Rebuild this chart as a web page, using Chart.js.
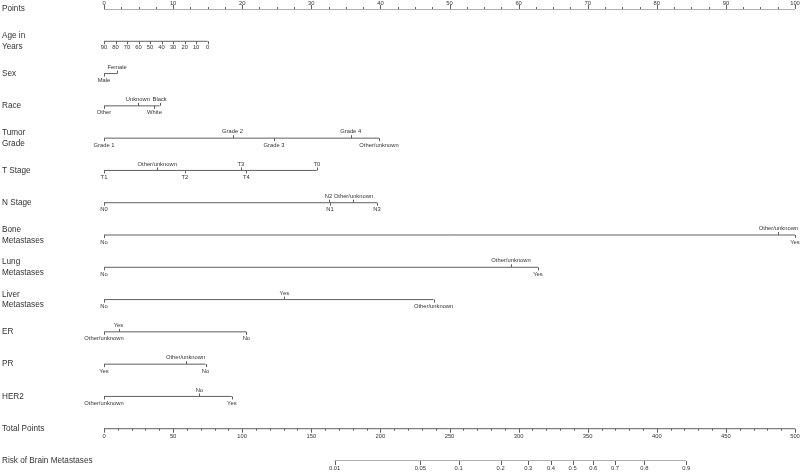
<!DOCTYPE html>
<html>
<head>
<meta charset="utf-8">
<script src="https://cdn.jsdelivr.net/npm/chart.js@4.4.1/dist/chart.umd.min.js"></script>
<style>
  body { margin: 0; background: #fff; }
  canvas { display: block; }
</style>
</head>
<body>
<canvas id="nomo" width="800" height="473"></canvas>
<script>
// row titles, top to bottom
const rowNames = [
  ['Points'], ['Age in', 'Years'], ['Sex'], ['Race'], ['Tumor', 'Grade'], ['T Stage'], ['N Stage'],
  ['Bone', 'Metastases'], ['Lung', 'Metastases'], ['Liver', 'Metastases'], ['ER'], ['PR'], ['HER2'],
  ['Total Points'], ['Risk of Brain Metastases']
];

// Points scale (0-100)
const pointLabels = [0, 10, 20, 30, 40, 50, 60, 70, 80, 90, 100];

// Age (continuous)
const ageLabels = [90, 80, 70, 60, 50, 40, 30, 20, 10, 0];
const agePoints = [0, 1.67, 3.33, 5, 6.67, 8.33, 10, 11.67, 13.33, 15];

// categorical rows: levels and their points
const sexLevels = ['Male', 'Female'];
const sexPoints = [0, 1.9];
const raceLevels = ['Other', 'Unknown', 'White', 'Black'];
const racePoints = [0, 4.9, 7.3, 8.05];
const gradeLevels = ['Grade 1', 'Grade 2', 'Grade 3', 'Grade 4', 'Other/unknown'];
const gradePoints = [0, 18.6, 24.6, 35.7, 39.8];
const tLevels = ['T1', 'Other/unknown', 'T2', 'T3', 'T4', 'T0'];
const tPoints = [0, 7.7, 11.7, 19.8, 20.6, 30.8];
const nLevels = ['N0', 'N2', 'N1', 'Other/unknown', 'N3'];
const nPoints = [0, 32.5, 32.7, 36.1, 39.5];
const boneLevels = ['No', 'Other/unknown', 'Yes'];
const bonePoints = [0, 97.6, 100];
const lungLevels = ['No', 'Other/unknown', 'Yes'];
const lungPoints = [0, 58.9, 62.8];
const liverLevels = ['No', 'Yes', 'Other/unknown'];
const liverPoints = [0, 26.1, 47.7];
const erLevels = ['Other/unknown', 'Yes', 'No'];
const erPoints = [0, 2.1, 20.6];
const prLevels = ['Yes', 'Other/unknown', 'No'];
const prPoints = [0, 11.8, 14.7];
const her2Levels = ['Other/unknown', 'No', 'Yes'];
const her2Points = [0, 13.8, 18.5];

// Total points (0-500)
const totalLabels = [0, 50, 100, 150, 200, 250, 300, 350, 400, 450, 500];

// Risk scale: labels and where they fall on the total points axis
const riskLabels = ['0.01', '0.05', '0.1', '0.2', '0.3', '0.4', '0.5', '0.6', '0.7', '0.8', '0.9'];
const riskTotals = [166.9, 228.9, 256.6, 287, 307, 323.4, 339.1, 354, 369.8, 391, 421.3];

const catRows = [
  [2, sexLevels, sexPoints], [3, raceLevels, racePoints], [4, gradeLevels, gradePoints],
  [5, tLevels, tPoints], [6, nLevels, nPoints], [7, boneLevels, bonePoints],
  [8, lungLevels, lungPoints], [9, liverLevels, liverPoints], [10, erLevels, erPoints],
  [11, prLevels, prPoints], [12, her2Levels, her2Points]
];

const LINE = '#606060';
const TXT = '#333';
const SMALL = '5.8px "Liberation Sans", Arial, sans-serif';
const BIG = '8.2px "Liberation Sans", Arial, sans-serif';

function rowLine(row, xs, axis) {
  return {
    data: [{ x: Math.min(...xs), y: row }, { x: Math.max(...xs), y: row }],
    xAxisID: axis || 'x',
    borderColor: LINE,
    borderWidth: 1,
    pointRadius: 0,
    fill: false
  };
}

const datasets = [
  rowLine(0, pointLabels),
  rowLine(1, agePoints),
  ...catRows.map(r => rowLine(r[0], r[2])),
  rowLine(13, totalLabels, 'x2'),
  rowLine(14, riskTotals, 'x2')
];

const nomogramPlugin = {
  id: 'nomogram',
  afterDatasetsDraw(chart) {
    const ctx = chart.ctx;
    const x = chart.scales.x, x2 = chart.scales.x2, y = chart.scales.y;
    ctx.save();
    ctx.strokeStyle = LINE;
    ctx.lineWidth = 1;
    ctx.fillStyle = TXT;
    ctx.textAlign = 'center';
    ctx.textBaseline = 'middle';

    function tick(px, py, len) {
      const xx = Math.round(px) + 0.5;
      ctx.beginPath();
      ctx.moveTo(xx, py);
      ctx.lineTo(xx, py + len);
      ctx.stroke();
    }

    // row titles
    ctx.font = BIG;
    ctx.textAlign = 'left';
    rowNames.forEach((lines, i) => {
      const py = y.getPixelForValue(i);
      lines.forEach((t, k) => {
        ctx.fillText(t, 2, py + (k - (lines.length - 1) / 2) * 10.5);
      });
    });
    ctx.textAlign = 'center';
    ctx.font = SMALL;

    // Points axis: labels above, minor ticks every 2.5
    let py = y.getPixelForValue(0);
    for (let v = 0; v <= 100; v += 2.5) tick(x.getPixelForValue(v), py, v % 10 === 0 ? -4 : -2);
    pointLabels.forEach(v => ctx.fillText(String(v), x.getPixelForValue(v), py - 6));

    // Age
    py = y.getPixelForValue(1);
    agePoints.forEach((p, i) => {
      tick(x.getPixelForValue(p), py, 3);
      ctx.fillText(String(ageLabels[i]), x.getPixelForValue(p), py + 6.5);
    });

    // categorical rows, labels alternate below/above
    catRows.forEach(([row, levels, pts]) => {
      const ry = y.getPixelForValue(row);
      const order = pts.map((p, i) => i).sort((a, b) => pts[a] - pts[b]);
      order.forEach((idx, k) => {
        const px = x.getPixelForValue(pts[idx]);
        const below = k % 2 === 0;
        tick(px, ry, below ? 3 : -3);
        ctx.fillText(levels[idx], px, ry + (below ? 7 : -6.5));
      });
    });

    // Total points
    py = y.getPixelForValue(13);
    for (let v = 0; v <= 500; v += 10) tick(x2.getPixelForValue(v), py, v % 50 === 0 ? 4 : 2);
    totalLabels.forEach(v => ctx.fillText(String(v), x2.getPixelForValue(v), py + 8));

    // Risk
    py = y.getPixelForValue(14);
    riskTotals.forEach((t, i) => {
      tick(x2.getPixelForValue(t), py, 4);
      ctx.fillText(riskLabels[i], x2.getPixelForValue(t), py + 7.5);
    });

    ctx.restore();
  }
};

new Chart(document.getElementById('nomo'), {
  type: 'line',
  data: { datasets: datasets },
  options: {
    responsive: false,
    animation: false,
    events: [],
    layout: { padding: { left: 104, right: 5, top: 9, bottom: 12 } },
    plugins: { legend: { display: false }, tooltip: { enabled: false } },
    scales: {
      x: { type: 'linear', min: 0, max: 100, display: false },
      x2: { type: 'linear', min: 0, max: 500, display: false },
      y: { type: 'linear', min: 0, max: 14, reverse: true, display: false }
    }
  },
  plugins: [nomogramPlugin]
});
</script>
</body>
</html>
